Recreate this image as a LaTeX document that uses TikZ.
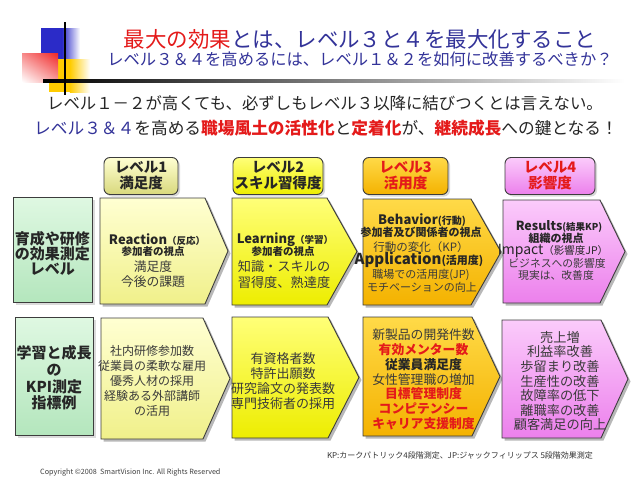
\documentclass[tikz,border=0pt]{standalone}
\usepackage{fontspec}
\setmainfont{Noto Sans CJK JP}
\usetikzlibrary{shadows,shadings}
\definecolor{navy}{HTML}{333399}
\definecolor{tred}{HTML}{E41A1A}
\definecolor{txt}{HTML}{262626}
\definecolor{soft}{HTML}{3A3A3A}
\definecolor{bordc}{HTML}{3C3C3C}
\definecolor{lyA}{HTML}{FFFFD2}\definecolor{lyB}{HTML}{F0F08A}
\definecolor{yA}{HTML}{FFFF78}\definecolor{yB}{HTML}{EDED00}
\definecolor{gA}{HTML}{FFDA48}\definecolor{gB}{HTML}{F4B200}
\definecolor{pA}{HTML}{FBCBFB}\definecolor{pB}{HTML}{EC80EC}
\definecolor{grA}{HTML}{DFF8E2}\definecolor{grB}{HTML}{B4E6BD}
\definecolor{logoblue}{HTML}{2B2BC8}
\definecolor{logored}{HTML}{F02828}
\definecolor{logoyel}{HTML}{FFCC00}
\newcommand\fsz[1]{\fontsize{#1}{#1}\selectfont}
\newcommand\sig[7]{%
  \fill[black,opacity=.28] ({#2+2.5},{#3+2.5}) -- ({#4+2.5},{#3+2.5}) -- ({#5+2.5},{(#3+#6)/2+2.5}) -- ({#4+2.5},{#6+2.5}) -- ({#2+2.5},{#6+2.5}) -- cycle;
  \path[#7, draw=bordc, line width=0.9pt] (#2,#3) -- (#4,#3) -- (#5,{(#3+#6)/2}) -- (#4,#6) -- (#2,#6) -- cycle;
  \coordinate (#1) at ({(#2+#4)/2},{(#3+#6)/2});
}
\tikzset{
  t/.style={inner sep=0pt, anchor=center, text=txt},
  tc/.style={inner sep=0pt, anchor=center, text=soft, align=center},
  fl1/.style={top color=lyA, bottom color=lyB},
  fl2/.style={top color=yA, bottom color=yB},
  fl3/.style={top color=gA, bottom color=gB},
  fl4/.style={top color=pA, bottom color=pB},
  flg/.style={top color=grA, bottom color=grB},
  hdr/.style={rounded corners=6pt, draw=bordc, line width=0.9pt, minimum height=37pt,
    inner sep=0pt, align=center, text=txt, font=\fontsize{14.5}{16}\selectfont\bfseries,
    drop shadow={shadow xshift=2pt, shadow yshift=-2pt, opacity=.3}},
  gbox/.style={flg, draw=bordc, line width=0.9pt, inner sep=0pt,
    drop shadow={shadow xshift=2.5pt, shadow yshift=-2.5pt, opacity=.28}},
}
\begin{document}
\begin{tikzpicture}[x=1pt,y=-1pt]
\useasboundingbox (0,0) rectangle (643,482);
\fill[white] (0,0) rectangle (643,482);
% logo
\fill[logoblue] (41,28) rectangle (62,59);
\shade[left color=logoblue, right color=white] (61.9,28) rectangle (80,59);
\fill[logoyel] (49,59) rectangle (70,92);
\shade[left color=logoyel, right color=white] (69.9,59) rectangle (90,92);
\shade[upper left=logored!55, upper right=logored, lower left=white, lower right=logored!45] (22,53) rectangle (58,82);
\shade[left color=black, middle color=black!70, right color=white] (43,79.5) rectangle (625,82.5);
\draw[black, line width=2pt] (65,22) -- (65,95);
% titles
\node[t, text=navy, font=\fsz{21.5}] (title1) at (360,39) {\textcolor{tred}{最大の効果}とは、レベル３と４を最大化すること};
\node[t, text=navy, font=\fsz{16.3}] (title2) at (360,59) {レベル３＆４を高めるには、レベル１＆２を如何に改善するべきか？};
\node[t, font=\fsz{16.4}] (line3) at (325,103) {レベル１－２が高くても、必ずしもレベル３以降に結びつくとは言えない。};
\node[t, font=\fsz{16.7}] (line4) at (326,128) {\textcolor{navy}{レベル３＆４}を高める\textcolor{tred}{\bfseries 職場風土の活性化}と\textcolor{tred}{\bfseries 定着化}が、\textcolor{tred}{\bfseries 継続成長}への鍵となる！};
% headers
\node[hdr, top color=lyA, bottom color=lyB!90!black, minimum width=74pt] (h1) at (141,176) {レベル1\\満足度};
\node[hdr, top color=yA, bottom color=yB, minimum width=90pt] (h2) at (278,176) {レベル2\\スキル習得度};
\node[hdr, top color=gA, bottom color=gB, minimum width=85pt, text=tred] (h3) at (405.5,176) {レベル3\\活用度};
\node[hdr, top color=pA, bottom color=pB, minimum width=90pt, text=tred] (h4) at (550,176) {レベル4\\影響度};
% green boxes
\node[gbox, minimum width=79pt, minimum height=105pt] (g1) at (52.5,249.5) {};
\node[gbox, minimum width=78pt, minimum height=118pt] (g2) at (54,376) {};
\node[tc, text=txt, font={\fontsize{15}{15}\selectfont\bfseries}] (g1t) at (52.5,253) {育成や研修\\の効果測定\\レベル};
\node[tc, text=txt, font={\fontsize{15}{16.7}\selectfont\bfseries}] (g2t) at (54,378) {学習と成長\\の\\KPI測定\\指標例};
% row 1 arrows
\sig{a11}{100}{198}{205}{228}{304}{fl1}
\sig{a12}{232}{198}{327}{357}{305}{fl2}
\sig{a13}{363}{199}{471}{501}{305}{fl3}
\sig{a14}{503}{200}{600}{625}{303}{fl4}
% row 2 arrows
\sig{a21}{101}{318}{203}{230}{439}{fl1}
\sig{a22}{232}{317}{328}{359}{438}{fl2}
\sig{a23}{363}{317}{472}{500}{436}{fl3}
\sig{a24}{502}{320}{601}{628}{438}{fl4}
% row 1 texts, level 1
\node[t, font=\bfseries] (r11a) at (157,240) {\fsz{13}Reaction\fsz{9.5}（反応）};
\node[t, font={\fsz{10.5}\bfseries}] (r11b) at (153,252) {参加者の視点};
\node[tc, font=\fsz{12.8}] (r11c) at (153,267) {満足度};
\node[tc, font=\fsz{12.8}] (r11d) at (153,282) {今後の課題};
% level 2
\node[t, font=\bfseries] (r12a) at (285,240) {\fsz{13}Learning\fsz{9.5}（学習）};
\node[t, font={\fsz{10.5}\bfseries}] (r12b) at (283,252) {参加者の視点};
\node[tc, font=\fsz{13.2}] (r12c) at (284,267) {知識・スキルの};
\node[tc, font=\fsz{13.2}] (r12d) at (284,282) {習得度、熟達度};
% level 3
\node[t, font=\bfseries] (r13a) at (422,220) {\fsz{13}Behavior\fsz{10}(行動)};
\node[t, font={\fsz{11}\bfseries}] (r13b) at (421,232) {参加者及び関係者の視点};
\node[tc, font=\fsz{11.5}] (r13c) at (421,247) {行動の変化（KP）};
\node[t, font=\bfseries] (r13d) at (419,260) {\fsz{15}Application\fsz{11}(活用度)};
\node[tc, font=\fsz{11}] (r13e) at (421,275) {職場での活用度(JP)};
\node[tc, font=\fsz{11}] (r13f) at (422,287) {モチベーションの向上};
% level 4
\node[t, font=\bfseries] (r14a) at (559,226) {\fsz{12.5}Results\fsz{9.5}(結果KP)};
\node[t, font={\fsz{11}\bfseries}] (r14b) at (556,238.5) {組織の視点};
\node[t] (r14c) at (553,251) {\fsz{14}Impact\fsz{10.5}（影響度JP）};
\node[tc, font=\fsz{10.8}] (r14d) at (557,263.5) {ビジネスへの影響度};
\node[tc, font=\fsz{10.8}] (r14e) at (556,275) {現実は、改善度};
% row 2 texts
\node[tc, font={\fontsize{12}{15.2}\selectfont}] (r21) at (152,381) {社内研修参加数\\従業員の柔軟な雇用\\優秀人材の採用\\経験ある外部講師\\の活用};
\node[tc, font={\fontsize{13}{15}\selectfont}] (r22) at (283,381) {有資格者数\\特許出願数\\研究論文の発表数\\専門技術者の採用};
\node[tc, font={\fontsize{12.8}{14.8}\selectfont}] (r23) at (423.5,379.5) {新製品の開発件数\\\textcolor{tred}{\bfseries 有効メンター数}\\\textcolor{txt}{\bfseries 従業員満足度}\\女性管理職の増加\\\textcolor{tred}{\bfseries 目標管理制度}\\\textcolor{tred}{\bfseries コンピテンシー}\\\textcolor{tred}{\bfseries キャリア支援制度}};
\node[tc, font={\fontsize{13.2}{14.6}\selectfont}] (r24) at (560,381) {売上増\\利益率改善\\歩留まり改善\\生産性の改善\\故障率の低下\\離職率の改善\\顧客満足の向上};
% footer
\node[t, font=\fsz{8}, text=black!80] (note) at (460,455) {KP:カークパトリック4段階測定、JP:ジャックフィリップス 5段階効果測定};
\node[t, font=\fsz{7.2}, text=black!75, anchor=west] (copy) at (40,473) {Copyright ©2008\ \ SmartVision Inc. All Rights Reserved};
\end{tikzpicture}
\end{document}
